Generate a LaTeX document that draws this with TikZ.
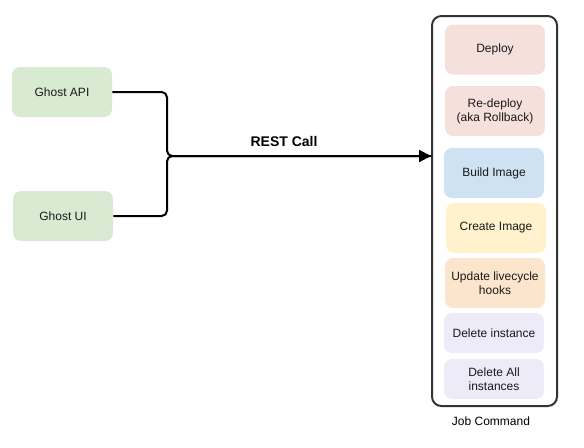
\documentclass[tikz,border=0pt]{standalone}
\usepackage{fontspec}
\setmainfont{Liberation Sans}
\usetikzlibrary{positioning,arrows.meta}
\definecolor{ghostgreen}{HTML}{D9EAD3}
\definecolor{deploypink}{HTML}{F5E0DC}
\definecolor{buildblue}{HTML}{CFE2F3}
\definecolor{createyellow}{HTML}{FFF2CC}
\definecolor{hookorange}{HTML}{FCE5CD}
\definecolor{deletepurple}{HTML}{EEEBF9}
\definecolor{framegray}{HTML}{333333}
\begin{document}
\begin{tikzpicture}[x=0.75pt,y=-0.75pt,
    box/.style={rectangle, rounded corners=6pt, inner sep=0pt, align=center,
      minimum width=75pt, minimum height=37.5pt,
      font=\fontsize{9}{10.5}\selectfont, text=black!90},
    shortbox/.style={box, minimum height=30pt},
    wire/.style={line width=1.5pt, rounded corners=4pt}]
    \useasboundingbox (0,0) rectangle (584,447);

    % job command frame
    \node[draw=framegray, line width=1.5pt, rectangle, rounded corners=7pt,
    minimum width=93.75pt, minimum height=292.5pt] (jobs) at (494.5,211) {};
    \node[font=\fontsize{9}{10.5}\selectfont] (jobl) at (491,421) {Job Command};

    \node[box, fill=deploypink] (deploy) at (495,49.5) {Deploy};
    \node[box, fill=deploypink] (redeploy) at (495,111) {Re-deploy\\(aka Rollback)};
    \node[box, fill=buildblue] (build) at (494,173) {Build Image};
    \node[box, fill=createyellow] (create) at (496,228) {Create Image};
    \node[box, fill=hookorange] (hooks) at (495,283) {Update livecycle\\hooks};
    \node[shortbox, fill=deletepurple] (del) at (494,333) {Delete instance};
    \node[shortbox, fill=deletepurple] (delall) at (494,379) {Delete All\\instances};

    % callers
    \node[box, fill=ghostgreen] (api) at (62,92) {Ghost API};
    \node[box, fill=ghostgreen] (ui) at (63,216) {Ghost UI};

    \coordinate (join) at (167,156);
    \draw[wire] (ui.east) -| (join) -- (jobs.west |- join);
    \draw[wire, -{Triangle[length=9pt, width=9pt]}] (api.east) -| (join) -- (jobs.west |- join);
    \node[font=\fontsize{10.5}{12}\selectfont\bfseries] (rest) at (284,141) {REST Call};
\end{tikzpicture}
\end{document}
